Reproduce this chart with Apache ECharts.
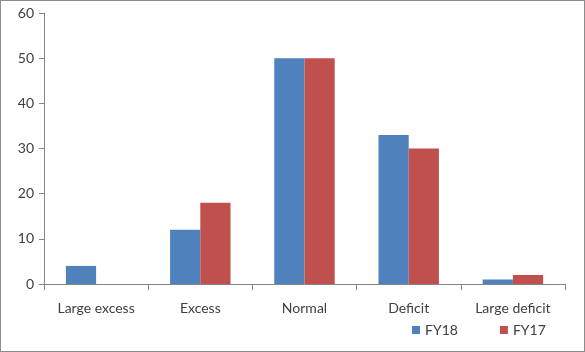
<!DOCTYPE html>
<html>
<head>
<meta charset="utf-8">
<script src="https://cdn.jsdelivr.net/npm/echarts@6/dist/echarts.min.js"></script>
<style>
  html, body { margin: 0; padding: 0; background: #fff; }
  #chart { width: 583px; height: 350px; border: 1px solid #8c8c8c; }
</style>
</head>
<body>
<div id="chart"></div>
<script>
var categories = ["Large excess", "Excess", "Normal", "Deficit", "Large deficit"];
var fy18 = [4, 12, 50, 33, 1];
var fy17 = [0, 18, 50, 30, 2];
var yTicks = { min: 0, max: 60, step: 10 };

(function () {
    var myChart = echarts.init(document.getElementById("chart"));
    var txt = { color: "#404040", fontSize: 14, fontFamily: "Lato" };
    var option = {
        animation: false,
        color: ["#4f81bd", "#c0504d"],
        grid: { left: 43, right: 19, top: 12, bottom: 67 },
        legend: {
            left: 406,
            top: 317,
            itemWidth: 8,
            itemHeight: 8,
            itemGap: 42,
            icon: "rect",
            textStyle: { color: "#404040", fontSize: 14, fontFamily: "Lato" },
            data: ["FY18", "FY17"]
        },
        xAxis: {
            type: "category",
            data: categories,
            axisLine: { lineStyle: { color: "#868686" } },
            axisTick: { show: true, length: 6, lineStyle: { color: "#868686" } },
            axisLabel: Object.assign({ margin: 17 }, txt)
        },
        yAxis: {
            type: "value",
            min: yTicks.min,
            max: yTicks.max,
            interval: yTicks.step,
            axisLine: { show: true, lineStyle: { color: "#868686" } },
            axisTick: { show: true, length: 5, lineStyle: { color: "#868686" } },
            splitLine: { show: false },
            axisLabel: Object.assign({ margin: 10 }, txt)
        },
        series: [
            { name: "FY18", type: "bar", data: fy18, barGap: "0%", barCategoryGap: "42%" },
            { name: "FY17", type: "bar", data: fy17, barGap: "0%", barCategoryGap: "42%" }
        ]
    };
    myChart.setOption(option);
})();
</script>
</body>
</html>
